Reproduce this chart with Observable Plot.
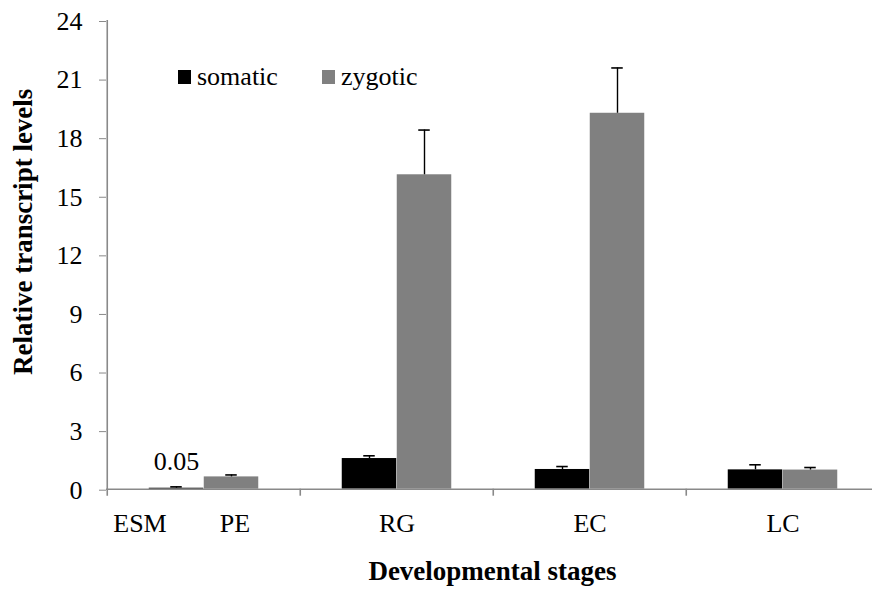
<!DOCTYPE html>
<html>
<head>
<meta charset="utf-8">
<script src="https://cdn.jsdelivr.net/npm/d3@7"></script>
<script src="https://cdn.jsdelivr.net/npm/@observablehq/plot@0.6"></script>
<style>
  body { margin: 0; background: #fff; }
  #wrap { position: relative; width: 872px; height: 594px; font-family: "Liberation Serif", "Times New Roman", serif; }
  .lg { position: absolute; top: 62px; display: flex; align-items: center; font-size: 26px; color: #000; line-height: 30px; }
  .sw { width: 13px; height: 14px; margin-right: 6px; }
</style>
</head>
<body>
<div id="wrap"></div>
<script>
// ---- data ----
const groups = ["ESM PE", "RG", "EC", "LC"];
const somatic = [0.05, 1.57, 1.01, 0.99];
const zygotic = [0.63, 16.1, 19.25, 0.98];
const somaticErr = [0.07, 0.14, 0.15, 0.26];
const zygoticErr = [0.10, 2.29, 2.32, 0.13];
const yTicks = [0, 3, 6, 9, 12, 15, 18, 21, 24];
const seriesNames = ["somatic", "zygotic"];
const seriesColors = ["#000000", "#808080"];
const firstGroupLabels = ["ESM", "PE"];
const xTitle = "Developmental stages";
const yTitle = "Relative transcript levels";

// ---- build ----
const rows = groups.map((g, i) => ({
  group: g, somatic: somatic[i], zygotic: zygotic[i],
  sTop: somatic[i] + somaticErr[i], zTop: zygotic[i] + zygoticErr[i]
}));
const FONT = '"Liberation Serif", "Times New Roman", serif';
const AXIS = "#898989";
const half = 96.75, barW = 55, cap = 6;

const chart = Plot.plot({
  width: 872, height: 594,
  marginLeft: 106, marginTop: 20, marginBottom: 105.3, marginRight: 0,
  style: {fontFamily: FONT, fontSize: "26px", color: "#000", background: "#fff"},
  x: {domain: groups, range: [106, 880], padding: 0, axis: null},
  y: {domain: [0, 24], axis: null},
  marks: [
    Plot.barY(rows, {x: "group", y: "somatic", fill: seriesColors[0], insetLeft: half - barW, insetRight: half}),
    Plot.barY(rows, {x: "group", y: "zygotic", fill: seriesColors[1], insetLeft: half, insetRight: half - barW}),
    // error bars
    Plot.ruleX(rows, {x: "group", y1: "somatic", y2: "sTop", dx: -barW / 2, stroke: "#000", strokeWidth: 1.4}),
    Plot.ruleX(rows, {x: "group", y1: "zygotic", y2: "zTop", dx: barW / 2, stroke: "#000", strokeWidth: 1.4}),
    Plot.tickY(rows, {x: "group", y: "sTop", insetLeft: half - barW / 2 - cap, insetRight: half + barW / 2 - cap, stroke: "#000", strokeWidth: 1.6}),
    Plot.tickY(rows, {x: "group", y: "zTop", insetLeft: half + barW / 2 - cap, insetRight: half - barW / 2 - cap, stroke: "#000", strokeWidth: 1.6}),
    // data label
    Plot.text([rows[0]], {x: "group", y: "somatic", text: d => String(d.somatic), dx: -barW / 2, dy: -27, fontSize: 26}),
    // axes
    Plot.ruleY([0], {stroke: AXIS, strokeWidth: 1.6}),
    Plot.ruleX([groups[0]], {x: d => d, y1: 24, y2: 0, dx: -half, insetBottom: -7, stroke: AXIS, strokeWidth: 1.6}),
    Plot.ruleX(groups.slice(1), {x: d => d, y1: 0, y2: 0, dx: -half, insetBottom: -7, stroke: AXIS, strokeWidth: 1.6}),
    Plot.axisY(yTicks, {tickSize: 7, tickPadding: 17, stroke: AXIS, fill: "#000", fontSize: 26, label: null, dy: 1}),
    // x tick labels
    Plot.text(groups.slice(1), {x: d => d, frameAnchor: "bottom", dy: 43, fontSize: 26}),
    Plot.text([groups[0]], {x: d => d, text: () => firstGroupLabels[0], frameAnchor: "bottom", dy: 43, dx: -64, fontSize: 26}),
    Plot.text([groups[0]], {x: d => d, text: () => firstGroupLabels[1], frameAnchor: "bottom", dy: 43, dx: 31, fontSize: 26}),
    // titles
    Plot.text([xTitle], {text: d => d, frameAnchor: "bottom", dy: 90.7, dx: 3, fontSize: 27, fontWeight: "bold"}),
    Plot.text([yTitle], {text: d => d, frameAnchor: "left", textAnchor: "middle", rotate: -90, dx: -83.6, dy: -23, fontSize: 27, fontWeight: "bold"})
  ]
});

const wrap = document.getElementById("wrap");
wrap.appendChild(chart);
const lefts = [178, 322];
seriesNames.forEach((name, i) => {
  const d = document.createElement("div");
  d.className = "lg";
  d.style.left = lefts[i] + "px";
  d.innerHTML = `<span class="sw" style="background:${seriesColors[i]}"></span><span>${name}</span>`;
  wrap.appendChild(d);
});
</script>
</body>
</html>
